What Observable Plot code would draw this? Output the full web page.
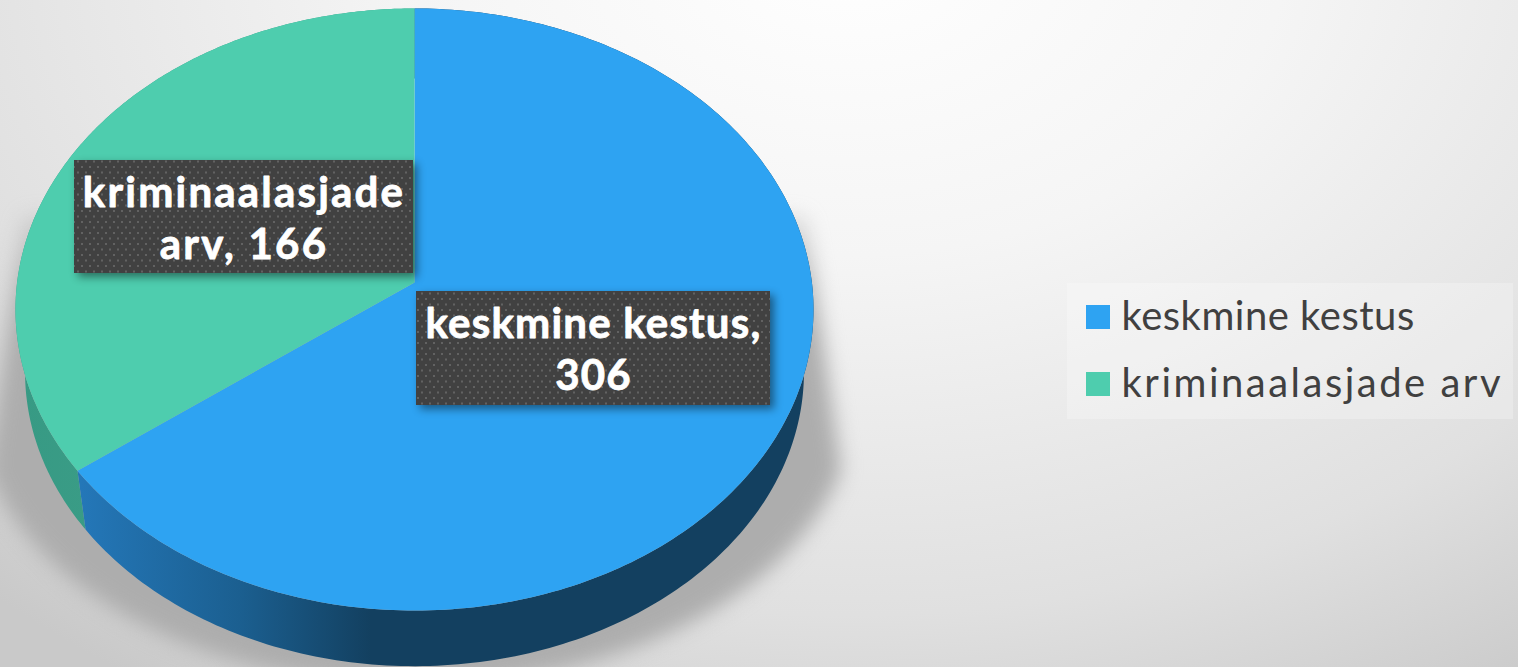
<!DOCTYPE html>
<html lang="et">
<head>
<meta charset="utf-8">
<script src="https://cdn.jsdelivr.net/npm/d3@7"></script>
<script src="https://cdn.jsdelivr.net/npm/@observablehq/plot@0.6"></script>
<style>
  html, body { margin: 0; padding: 0; background: #e6e6e6; overflow: hidden; }
</style>
</head>
<body>
<div id="chart"></div>
<script>
// Data
const categories = ["keskmine kestus", "kriminaalasjade arv"];
const values = [306, 166];
const sliceLabels = ["keskmine kestus,\n306", "kriminaalasjade\narv, 166"];
const sliceColors = ["#2ea3f2", "#4ecdae"];

// Layout
const W = 1518, H = 667;
const cx = 414, apexY = 282, S = 397.4, T = 298.6, P = 0.0897;  // perspective disc
const rimScale = 0.976, rimDrop = 63.5;

const angles = d3.pie().sort(null).value(d => d)(values);
const disc = a => {
  const u = Math.sin(a), v = -Math.cos(a), d = 1 - P * v;
  return [cx + S * u / d, apexY + T * v / d];
};
const rim = a => {
  const [x, y] = disc(a);
  return [cx + (x - cx) * rimScale, apexY + rimDrop + (y - apexY) * rimScale];
};
const arcSamples = (a0, a1, f) => d3.range(0, 241).map(i => f(a0 + (a1 - a0) * i / 240));

const tops = [], sides = [[], []];
angles.forEach((s, i) => {
  tops.push({category: categories[i], x: cx, y: apexY});
  for (const [x, y] of arcSamples(s.startAngle, s.endAngle, disc)) tops.push({category: categories[i], x, y});
  const upper = arcSamples(s.startAngle, s.endAngle, disc);
  const lower = arcSamples(s.startAngle, s.endAngle, rim).reverse();
  for (const [x, y] of upper.concat(lower)) sides[i].push({x, y});
});

// Soft cast shadow outline
const shadowPts = (() => {
  const cy = 400, a = 440, b = 285, joinY = 470;
  const off = y => 391 + 0.14 * (y - 215);
  const pts = [];
  for (let y = 215; y < joinY; y += 5) pts.push({x: cx + off(y), y});
  for (let i = 0; i <= 200; i++) {
    const t = i / 200 * 2 * Math.PI;
    const x = cx + a * Math.cos(t), y = cy + b * Math.sin(t);
    if (y >= joinY) pts.push({x, y});
  }
  for (let y = joinY; y >= 215; y -= 5) pts.push({x: cx - off(y), y});
  return pts;
})();

const defs = () => {
  const d = d3.create("svg:defs");
  const grad = (id, x1, x2, y1, y2, stops) => {
    const g = d.append("linearGradient").attr("id", id).attr("gradientUnits", "userSpaceOnUse")
      .attr("x1", x1).attr("x2", x2).attr("y1", y1).attr("y2", y2);
    for (const [o, c, op] of stops) g.append("stop").attr("offset", o).attr("stop-color", c).attr("stop-opacity", op ?? 1);
  };
  grad("sideBlue", 80, 370, 0, 0, [[0, "#2477b8"], [0.55, "#1b5f90"], [1, "#134060"]]);
  grad("sideTeal", 20, 90, 0, 0, [[0, "#379a84"], [1, "#3a9c86"]]);
  grad("shadowFill", 0, 0, 190, 340, [[0, "#a0a0a0", 0], [0.6, "#adadad", 0.85], [1, "#adadad", 1]]);
  const p = d.append("pattern").attr("id", "dots").attr("patternUnits", "userSpaceOnUse")
    .attr("width", 8).attr("height", 11);
  p.append("rect").attr("width", 8).attr("height", 11).attr("fill", "#414141");
  p.append("rect").attr("x", 1).attr("y", 1).attr("width", 2).attr("height", 2).attr("fill", "#626262");
  p.append("rect").attr("x", 5).attr("y", 6.5).attr("width", 2).attr("height", 2).attr("fill", "#626262");
  return d.node();
};

const boxes = [
  {x1: 416, x2: 770, y1: 291, y2: 405, label: sliceLabels[0], tx: 593, ty: 347},
  {x1: 74, x2: 413, y1: 160, y2: 273, label: sliceLabels[1], tx: 243.5, ty: 215.5}
];
const legendRows = categories.map((c, i) => ({
  category: c, x1: 1086, x2: 1110, y1: 305 + i * 67, y2: 329 + i * 67, tx: 1121, ty: 317 + i * 67
}));

const chart = Plot.plot({
  width: W, height: H, margin: 0,
  x: {type: "linear", domain: [0, W], range: [0, W], axis: null},
  y: {type: "linear", domain: [0, H], range: [0, H], axis: null},
  color: {domain: categories, range: sliceColors},
  style: {
    background: "radial-gradient(ellipse 1250px 900px at 850px -60px, #ffffff 0%, #f5f5f5 35%, #e0e0e0 75%, #c9c9c9 100%)",
    fontFamily: "Lato"
  },
  marks: [
    defs,
    Plot.line(shadowPts, {x: "x", y: "y", curve: "linear-closed", fill: "url(#shadowFill)", stroke: "none", imageFilter: "blur(10px)"}),
    Plot.line(sides[1], {x: "x", y: "y", curve: "linear-closed", fill: "url(#sideTeal)", stroke: "none"}),
    Plot.line(sides[0], {x: "x", y: "y", curve: "linear-closed", fill: "url(#sideBlue)", stroke: "none"}),
    Plot.line(tops, {x: "x", y: "y", curve: "linear-closed", fill: "category", stroke: "none"}),
    Plot.rect(boxes, {x1: "x1", x2: "x2", y1: "y1", y2: "y2", fill: "url(#dots)", imageFilter: "drop-shadow(4px 4px 4px rgba(0,0,0,0.45))"}),
    Plot.text(boxes, {x: "tx", y: "ty", text: "label", fill: "white", stroke: "white", strokeWidth: 0.8, fontSize: 42, fontWeight: 700, lineHeight: 1.24}),
    Plot.rect([0], {x1: () => 1067, x2: () => 1513, y1: () => 283, y2: () => 419, fill: "white", fillOpacity: 0.25}),
    Plot.rect(legendRows, {x1: "x1", x2: "x2", y1: "y1", y2: "y2", fill: "category"}),
    Plot.text(legendRows, {x: "tx", y: "ty", text: "category", fill: "#404040", fontSize: 40, textAnchor: "start"})
  ]
});
// Tracking of the wide geometric typeface in the reference, per text
const textGroups = chart.querySelectorAll('g[aria-label="text"]');
const tracking = [[1.2, 2.2], [0.5, 2.5]];
textGroups.forEach((g, i) => g.querySelectorAll("text").forEach((t, j) => { t.style.letterSpacing = tracking[i][j] + "px"; }));
document.getElementById("chart").append(chart);
</script>
</body>
</html>
